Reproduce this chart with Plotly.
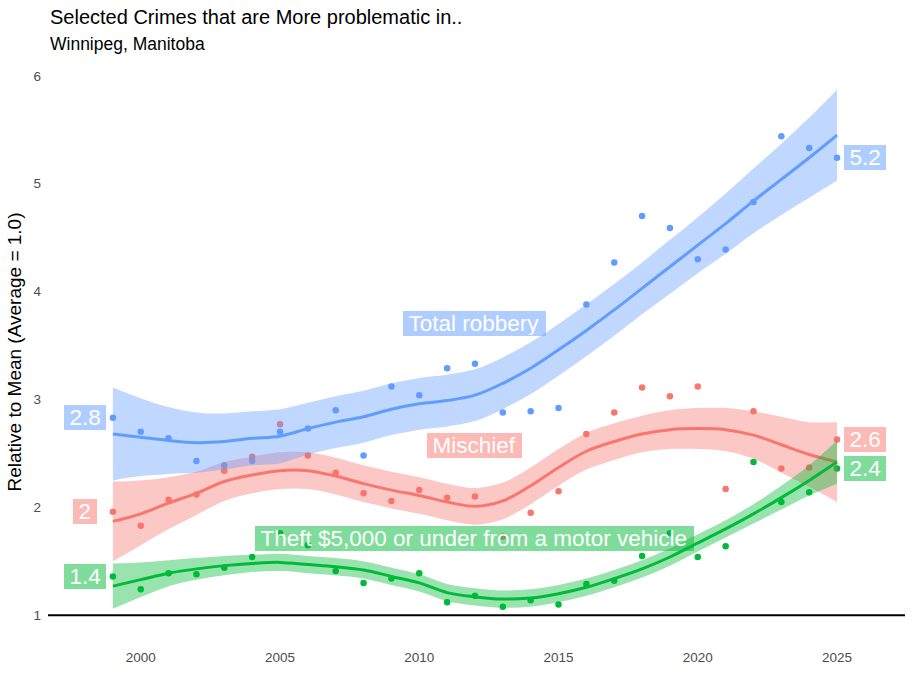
import plotly.graph_objects as go

years = list(range(1999, 2026))

# observed points (relative to mean)
robbery = [2.83, 2.70, 2.64, 2.43, 2.39, 2.43, 2.70, 2.73, 2.90, 2.48, 3.12, 3.04, 3.29, 3.33,
           2.88, 2.89, 2.92, 3.88, 4.27, 4.70, 4.59, 4.30, 4.39, 4.83, 5.44, 5.33, 5.24]
mischief = [1.96, 1.83, 2.07, 2.12, 2.34, 2.47, 2.77, 2.48, 2.32, 2.13, 2.06, 2.16, 2.09, 2.10,
            1.73, 1.95, 2.15, 2.68, 2.88, 3.11, 3.03, 3.12, 2.17, 2.89, 2.36, 2.37, 2.63]
theft = [1.36, 1.24, 1.39, 1.38, 1.44, 1.54, 1.76, 1.65, 1.41, 1.30, 1.34, 1.39, 1.12, 1.18,
         1.08, 1.14, 1.10, 1.29, 1.32, 1.55, 1.76, 1.54, 1.64, 2.42, 2.05, 2.14, 2.36]

# smoothed fits and bands
robbery_fit = [2.68, 2.65, 2.62, 2.60, 2.61, 2.64, 2.66, 2.73, 2.79, 2.84, 2.91, 2.96, 2.99, 3.04,
               3.15, 3.29, 3.46, 3.64, 3.83, 4.03, 4.23, 4.43, 4.63, 4.84, 5.04, 5.24, 5.45]
robbery_lo = [2.25, 2.29, 2.31, 2.32, 2.35, 2.39, 2.41, 2.49, 2.55, 2.60, 2.67, 2.72, 2.75, 2.80,
              2.91, 3.05, 3.22, 3.40, 3.59, 3.79, 3.98, 4.17, 4.35, 4.54, 4.71, 4.87, 5.03]
robbery_hi = [3.11, 3.01, 2.93, 2.88, 2.87, 2.89, 2.91, 2.97, 3.03, 3.08, 3.15, 3.20, 3.23, 3.28,
              3.39, 3.53, 3.70, 3.88, 4.07, 4.27, 4.48, 4.69, 4.91, 5.14, 5.37, 5.61, 5.87]

mischief_fit = [1.87, 1.94, 2.04, 2.13, 2.24, 2.30, 2.34, 2.34, 2.29, 2.22, 2.16, 2.11, 2.05, 2.01,
                2.06, 2.20, 2.37, 2.52, 2.61, 2.68, 2.72, 2.73, 2.72, 2.67, 2.58, 2.49, 2.42]
mischief_lo = [1.50, 1.65, 1.80, 1.93, 2.06, 2.13, 2.17, 2.17, 2.12, 2.05, 1.99, 1.94, 1.88, 1.84,
               1.89, 2.03, 2.20, 2.35, 2.44, 2.51, 2.54, 2.54, 2.52, 2.45, 2.32, 2.19, 2.05]
mischief_hi = [2.24, 2.25, 2.28, 2.33, 2.42, 2.47, 2.51, 2.51, 2.46, 2.39, 2.33, 2.28, 2.22, 2.18,
               2.23, 2.37, 2.54, 2.69, 2.78, 2.85, 2.90, 2.92, 2.92, 2.89, 2.84, 2.79, 2.79]

theft_fit = [1.27, 1.33, 1.39, 1.43, 1.46, 1.48, 1.49, 1.47, 1.45, 1.42, 1.36, 1.30, 1.21, 1.17,
             1.15, 1.16, 1.20, 1.26, 1.34, 1.43, 1.54, 1.67, 1.80, 1.94, 2.09, 2.25, 2.42]
theft_lo = [1.06, 1.17, 1.27, 1.33, 1.37, 1.40, 1.41, 1.39, 1.37, 1.34, 1.28, 1.22, 1.13, 1.09,
            1.07, 1.08, 1.12, 1.18, 1.26, 1.35, 1.46, 1.59, 1.72, 1.85, 1.98, 2.11, 2.22]
theft_hi = [1.48, 1.49, 1.51, 1.53, 1.55, 1.56, 1.57, 1.55, 1.53, 1.50, 1.44, 1.38, 1.29, 1.25,
            1.23, 1.24, 1.28, 1.34, 1.42, 1.51, 1.62, 1.75, 1.88, 2.03, 2.20, 2.39, 2.62]

names = ["Mischief", "Theft $5,000 or under from a motor vehicle", "Total robbery"]
label_y = [2.57, 1.71, 3.70]
label_x = 2012

series = [
    (mischief, mischief_fit, mischief_lo, mischief_hi, (248, 118, 109)),
    (theft, theft_fit, theft_lo, theft_hi, (0, 186, 56)),
    (robbery, robbery_fit, robbery_lo, robbery_hi, (97, 156, 255)),
]

FONT = "Liberation Sans, Arial, sans-serif"
PAD = "\u2009"

fig = go.Figure()

# points first (they sit under the ribbons)
for vals, fit, lo, hi, c in series:
    fig.add_trace(go.Scatter(x=years, y=vals, mode="markers",
                             marker=dict(size=6.5, color="rgb(%d,%d,%d)" % c),
                             showlegend=False, hoverinfo="skip"))

for vals, fit, lo, hi, c in series:
    fig.add_trace(go.Scatter(x=years, y=lo, mode="lines", line=dict(width=0, shape="spline"),
                             showlegend=False, hoverinfo="skip"))
    fig.add_trace(go.Scatter(x=years, y=hi, mode="lines", line=dict(width=0, shape="spline"),
                             fill="tonexty", fillcolor="rgba(%d,%d,%d,0.4)" % c,
                             showlegend=False, hoverinfo="skip"))
    fig.add_trace(go.Scatter(x=years, y=fit, mode="lines",
                             line=dict(width=3, color="rgb(%d,%d,%d)" % c, shape="spline"),
                             showlegend=False, hoverinfo="skip"))

# labels: series name in the middle, first and last values at the ends
for (vals, fit, lo, hi, c), name, ly in zip(series, names, label_y):
    box = dict(bgcolor="rgba(%d,%d,%d,0.5)" % c, borderwidth=0, borderpad=1, height=23,
               showarrow=False, font=dict(family=FONT, size=22.5, color="white"))
    fig.add_annotation(x=label_x, y=ly, text=PAD + name + "\u00a0", **box)
    fig.add_annotation(x=years[0] - 1, y=vals[0], text=PAD + f"{round(vals[0], 1):g}" + PAD, **box)
    fig.add_annotation(x=years[-1] + 1, y=vals[-1], text=PAD + f"{round(vals[-1], 1):g}" + PAD, **box)

fig.add_hline(y=1, line=dict(color="black", width=2))

fig.add_annotation(xref="paper", yref="paper", x=0, y=1 + 48 / 574, xanchor="left",
                   yanchor="middle", showarrow=False,
                   text="Selected Crimes that are More problematic in..",
                   font=dict(family=FONT, size=20, color="black"))
fig.add_annotation(xref="paper", yref="paper", x=0, y=1 + 21 / 574, xanchor="left",
                   yanchor="middle", showarrow=False, text="Winnipeg, Manitoba",
                   font=dict(family=FONT, size=17.5, color="black"))

fig.update_layout(
    width=914, height=693,
    margin=dict(l=48, r=9, t=65, b=54),
    plot_bgcolor="white", paper_bgcolor="white",
    font=dict(family=FONT),
    xaxis=dict(range=[1996.67, 2027.44], tickvals=[2000, 2005, 2010, 2015, 2020, 2025],
               showgrid=False, zeroline=False, showline=False, ticks="",
               tickfont=dict(size=13.5, color="#4d4d4d"), ticklabelstandoff=8),
    yaxis=dict(range=[0.78, 6.1], tickvals=[1, 2, 3, 4, 5, 6], showgrid=False,
               zeroline=False, showline=False, ticks="",
               tickfont=dict(size=13.5, color="#4d4d4d"), ticklabelstandoff=6,
               title=dict(text="Relative to Mean (Average = 1.0)",
                          font=dict(size=19, color="black"), standoff=6)),
)

fig.write_html("out.html", config={"displayModeBar": False},
               post_script="document.body.style.margin='0px';")
